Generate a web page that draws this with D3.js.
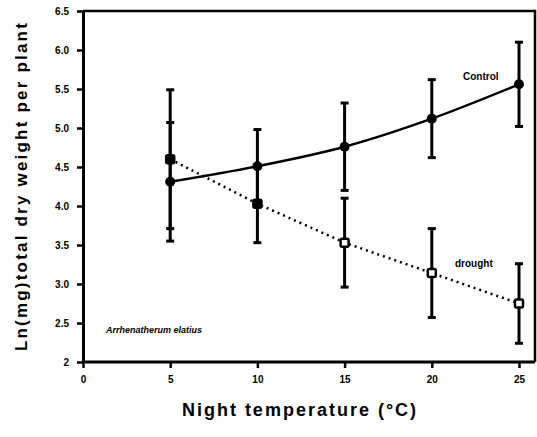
<!DOCTYPE html>
<html>
<head>
<meta charset="utf-8">
<script src="https://cdn.jsdelivr.net/npm/d3@7"></script>
<style>
  body { margin: 0; background: #fff; }
  text { font-family: "Liberation Sans", Arial, sans-serif; font-weight: bold; fill: #000; }
</style>
</head>
<body>
<div id="chart"></div>
<script>
// values
const temps = [5, 10, 15, 20, 25];
const control = [4.31, 4.51, 4.76, 5.12, 5.56];
const controlErr = [0.76, 0.47, 0.56, 0.50, 0.54];
const drought = [4.60, 4.03, 3.53, 3.14, 2.75];
const droughtErr = [0.89, 0.50, 0.57, 0.57, 0.51];
const xTicks = [0, 5, 10, 15, 20, 25];
const yTicks = [2, 2.5, 3, 3.5, 4, 4.5, 5, 5.5, 6, 6.5];
const yTickLabels = ["2", "2.5", "3.0", "3.5", "4.0", "4.5", "5.0", "5.5", "6.0", "6.5"];

const svgWidth = 537;
const svgHeight = 437;

const svg = d3.select("#chart")
  .append("svg")
  .attr("width", svgWidth)
  .attr("height", svgHeight);

const x = d3.scaleLinear().domain([0, 25]).range([83, 519]);
const y = d3.scaleLinear().domain([2, 6.5]).range([362, 11]);

// frame (top + right), axes drawn separately
svg.append("path")
  .attr("d", `M${x(0)},${y(6.5)} L535,${y(6.5)} L535,${y(2)}`)
  .attr("fill", "none")
  .attr("stroke", "#000")
  .attr("stroke-width", 2.5);

const xAxis = d3.axisBottom(x).tickValues(xTicks).tickSize(6).tickSizeOuter(0);
const yAxis = d3.axisLeft(y).tickValues(yTicks).tickSize(6).tickSizeOuter(0)
  .tickFormat((d, i) => yTickLabels[i]);

const gx = svg.append("g")
  .attr("transform", `translate(0,${y(2)})`)
  .call(xAxis);
gx.select(".domain").attr("d", `M${x(0)},0H535`);

const gy = svg.append("g")
  .attr("transform", `translate(${x(0)},0)`)
  .call(yAxis);

[gx, gy].forEach(g => {
  g.select(".domain").attr("stroke-width", 3);
  g.selectAll(".tick line").attr("stroke-width", 2.5);
  g.selectAll(".tick text").style("font-size", "10px").style("font-weight", "900");
});
gx.selectAll(".tick text").attr("dy", "1.2em");
gy.selectAll(".tick text").attr("dx", "-0.5em");

// error bars
function errorBars(vals, errs) {
  const g = svg.append("g").attr("stroke", "#000");
  temps.forEach((t, i) => {
    const cx = x(t), lo = y(vals[i] - errs[i]), hi = y(vals[i] + errs[i]);
    g.append("line").attr("x1", cx).attr("x2", cx).attr("y1", lo).attr("y2", hi)
      .attr("stroke-width", 3);
    [lo, hi].forEach(yy => g.append("line")
      .attr("x1", cx - 4).attr("x2", cx + 4).attr("y1", yy).attr("y2", yy)
      .attr("stroke-width", 3));
  });
}
errorBars(control, controlErr);
errorBars(drought, droughtErr);

// lines
const line = d3.line().x((d, i) => x(temps[i])).y(d => y(d));
svg.append("path")
  .datum(control)
  .attr("d", line.curve(d3.curveMonotoneX))
  .attr("fill", "none")
  .attr("stroke", "#000")
  .attr("stroke-width", 2.5);

svg.append("path")
  .datum(drought)
  .attr("d", d3.line().x((d, i) => x(temps[i])).y(d => y(d)))
  .attr("fill", "none")
  .attr("stroke", "#000")
  .attr("stroke-width", 2.5)
  .attr("stroke-dasharray", "2,4");

// markers
svg.selectAll(".ctrl")
  .data(control)
  .enter()
  .append("circle")
  .attr("cx", (d, i) => x(temps[i]))
  .attr("cy", d => y(d))
  .attr("r", 5)
  .attr("fill", "#000");

// the first two drought squares print filled in the scan
svg.selectAll(".drt")
  .data(drought)
  .enter()
  .append("rect")
  .attr("x", (d, i) => x(temps[i]) - 4)
  .attr("y", d => y(d) - 4)
  .attr("width", 8)
  .attr("height", 8)
  .attr("rx", 1.5)
  .attr("fill", (d, i) => i < 2 ? "#000" : "#fff")
  .attr("stroke", "#000")
  .attr("stroke-width", 2.5);

// labels
svg.append("text").attr("x", 463).attr("y", 80)
  .style("font-size", "10px").style("font-weight", "900").text("Control");
svg.append("text").attr("x", 455).attr("y", 267)
  .style("font-size", "10px").style("font-weight", "900").text("drought");
svg.append("text").attr("x", 106).attr("y", 333)
  .style("font-size", "9px").style("font-weight", "900").style("font-style", "italic")
  .text("Arrhenatherum elatius");

svg.append("text")
  .attr("x", 300).attr("y", 416)
  .attr("text-anchor", "middle")
  .style("font-size", "18px")
  .style("letter-spacing", "2px")
  .text("Night temperature (°C)");

svg.append("text")
  .attr("transform", "translate(27,186) rotate(-90)")
  .attr("text-anchor", "middle")
  .style("font-size", "17px")
  .style("letter-spacing", "2.2px")
  .text("Ln(mg)total dry weight per plant");
</script>
</body>
</html>
